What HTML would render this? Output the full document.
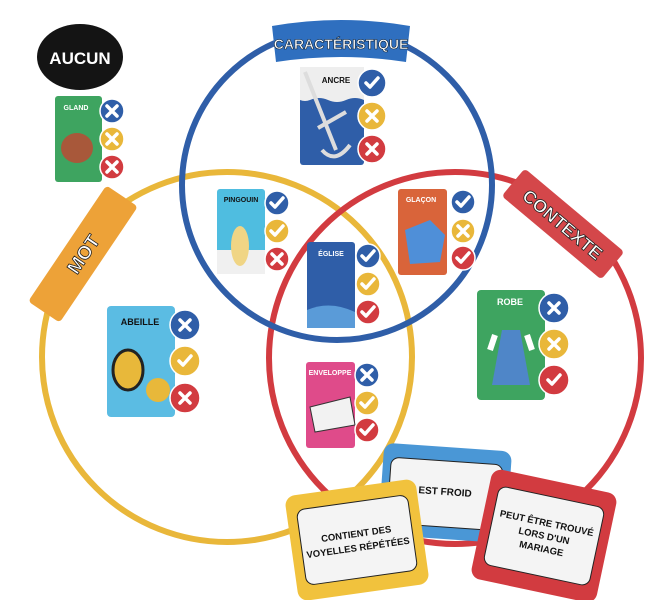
<!DOCTYPE html>
<html><head><meta charset="utf-8"><style>
html,body{margin:0;padding:0;background:#fff;}
svg{display:block;font-family:"Liberation Sans",sans-serif;font-weight:bold;}
</style></head><body>
<svg width="671" height="600" viewBox="0 0 671 600" xmlns="http://www.w3.org/2000/svg">
<defs>
<g id="ck"><path d="M-6,0 L-2,4 L6,-5" fill="none" stroke="#fff" stroke-width="3.5" stroke-linecap="round" stroke-linejoin="round"/></g>
<g id="xx"><path d="M-5,-5 L5,5 M5,-5 L-5,5" fill="none" stroke="#fff" stroke-width="3.5" stroke-linecap="round"/></g>
</defs>
<!-- circles -->
<circle cx="227" cy="357" r="185" fill="none" stroke="#e9b73a" stroke-width="6"/>
<circle cx="455" cy="358" r="186" fill="none" stroke="#d23b40" stroke-width="6"/>
<circle cx="337" cy="185" r="155" fill="none" stroke="#2f5ea8" stroke-width="6"/>

<!-- AUCUN -->
<ellipse cx="80" cy="57" rx="43" ry="33" fill="#141414"/>
<text x="80" y="64" font-size="17" fill="#fff" text-anchor="middle">AUCUN</text>

<!-- banners -->
<path d="M272,26 Q341,14 410,26 L406,62 Q341,52 276,62 Z" fill="#2f6fbf"/>
<text x="341" y="49" font-size="14" fill="#fff" text-anchor="middle" stroke="#123" stroke-width="0.6">CARACTÉRISTIQUE</text>
<g transform="translate(83,254) rotate(-56)">
<rect x="-70" y="-19" width="140" height="38" rx="4" fill="#eda238"/>
<text x="0" y="7" font-size="19" fill="#fff" text-anchor="middle" stroke="#222" stroke-width="0.8">MOT</text>
</g>
<g transform="translate(563,224) rotate(40)">
<rect x="-65" y="-18" width="130" height="36" rx="4" fill="#d4474a"/>
<text x="0" y="7" font-size="18" fill="#fff" text-anchor="middle" stroke="#222" stroke-width="0.8">CONTEXTE</text>
</g>

<!-- GLAND -->
<rect x="55" y="96" width="47" height="86" rx="3" fill="#3ea460"/>
<text x="76" y="110" font-size="7" fill="#fff" text-anchor="middle">GLAND</text>
<ellipse cx="77" cy="148" rx="16" ry="15" fill="#a8583a"/>
<circle cx="112" cy="111" r="12" fill="#2f5ea8" stroke="#fff" stroke-width="1.5"/><use href="#xx" x="112" y="111"/>
<circle cx="112" cy="139" r="12" fill="#e9b73a" stroke="#fff" stroke-width="1.5"/><use href="#xx" x="112" y="139"/>
<circle cx="112" cy="167" r="12" fill="#d23b40" stroke="#fff" stroke-width="1.5"/><use href="#xx" x="112" y="167"/>

<!-- ANCRE -->
<rect x="300" y="67" width="64" height="98" rx="3" fill="#2f5ea8"/>
<path d="M300,67 H364 V100 Q355,96 346,100 Q337,104 328,100 Q319,96 310,100 Q305,102 300,100 Z" fill="#eeeeee"/>
<text x="336" y="83" font-size="8" fill="#111" text-anchor="middle">ANCRE</text>
<path d="M305,72 L336,150 M318,128 L346,112 M322,150 Q335,165 350,145" stroke="#ddd" stroke-width="4" fill="none"/>
<circle cx="372" cy="83" r="14" fill="#2f5ea8" stroke="#fff" stroke-width="1.5"/><use href="#ck" x="372" y="83"/>
<circle cx="372" cy="116" r="14" fill="#e9b73a" stroke="#fff" stroke-width="1.5"/><use href="#xx" x="372" y="116"/>
<circle cx="372" cy="149" r="14" fill="#d23b40" stroke="#fff" stroke-width="1.5"/><use href="#xx" x="372" y="149"/>

<!-- PINGOUIN -->
<rect x="217" y="189" width="48" height="85" rx="3" fill="#4fbde0"/>
<rect x="217" y="250" width="48" height="24" fill="#f0f0f0"/>
<text x="241" y="202" font-size="7" fill="#111" text-anchor="middle">PINGOUIN</text>
<ellipse cx="240" cy="246" rx="9" ry="20" fill="#f0d585"/>
<circle cx="277" cy="203" r="12" fill="#2f5ea8" stroke="#fff" stroke-width="1.5"/><use href="#ck" x="277" y="203"/>
<circle cx="277" cy="231" r="12" fill="#e9b73a" stroke="#fff" stroke-width="1.5"/><use href="#ck" x="277" y="231"/>
<circle cx="277" cy="259" r="12" fill="#d23b40" stroke="#fff" stroke-width="1.5"/><use href="#xx" x="277" y="259"/>

<!-- GLACON -->
<rect x="398" y="189" width="49" height="86" rx="3" fill="#d9643a"/>
<text x="421" y="202" font-size="7" fill="#fff" text-anchor="middle">GLAÇON</text>
<path d="M405,230 L430,220 L445,235 L440,262 L410,264 Z" fill="#4f8fd8"/>
<circle cx="463" cy="202" r="12" fill="#2f5ea8" stroke="#fff" stroke-width="1.5"/><use href="#ck" x="463" y="202"/>
<circle cx="463" cy="231" r="12" fill="#e9b73a" stroke="#fff" stroke-width="1.5"/><use href="#xx" x="463" y="231"/>
<circle cx="463" cy="258" r="12" fill="#d23b40" stroke="#fff" stroke-width="1.5"/><use href="#ck" x="463" y="258"/>

<!-- EGLISE -->
<rect x="307" y="242" width="48" height="86" rx="3" fill="#2f5ea8"/>
<text x="331" y="256" font-size="7" fill="#fff" text-anchor="middle">ÉGLISE</text>
<path d="M307,310 Q330,300 355,312 V328 H307 Z" fill="#5a9bd8"/>
<circle cx="368" cy="256" r="12" fill="#2f5ea8" stroke="#fff" stroke-width="1.5"/><use href="#ck" x="368" y="256"/>
<circle cx="368" cy="284" r="12" fill="#e9b73a" stroke="#fff" stroke-width="1.5"/><use href="#ck" x="368" y="284"/>
<circle cx="368" cy="312" r="12" fill="#d23b40" stroke="#fff" stroke-width="1.5"/><use href="#ck" x="368" y="312"/>

<!-- ABEILLE -->
<rect x="107" y="306" width="68" height="111" rx="4" fill="#5bbce3"/>
<text x="140" y="325" font-size="9" fill="#111" text-anchor="middle">ABEILLE</text>
<ellipse cx="128" cy="370" rx="15" ry="20" fill="#e8b83a" stroke="#222" stroke-width="3"/>
<circle cx="158" cy="390" r="12" fill="#e8b83a"/>
<circle cx="185" cy="325" r="15" fill="#2f5ea8" stroke="#fff" stroke-width="1.5"/><use href="#xx" x="185" y="325"/>
<circle cx="185" cy="361" r="15" fill="#e9b73a" stroke="#fff" stroke-width="1.5"/><use href="#ck" x="185" y="361"/>
<circle cx="185" cy="398" r="15" fill="#d23b40" stroke="#fff" stroke-width="1.5"/><use href="#xx" x="185" y="398"/>

<!-- ENVELOPPE -->
<rect x="306" y="362" width="49" height="86" rx="3" fill="#df4b8a"/>
<text x="330" y="375" font-size="7" fill="#fff" text-anchor="middle">ENVELOPPE</text>
<path d="M310,407 L350,397 L355,425 L315,432 Z" fill="#f2f2f2" stroke="#333" stroke-width="1"/>
<circle cx="367" cy="375" r="12" fill="#2f5ea8" stroke="#fff" stroke-width="1.5"/><use href="#xx" x="367" y="375"/>
<circle cx="367" cy="403" r="12" fill="#e9b73a" stroke="#fff" stroke-width="1.5"/><use href="#ck" x="367" y="403"/>
<circle cx="367" cy="430" r="12" fill="#d23b40" stroke="#fff" stroke-width="1.5"/><use href="#ck" x="367" y="430"/>

<!-- ROBE -->
<rect x="477" y="290" width="68" height="110" rx="4" fill="#3ea460"/>
<text x="510" y="305" font-size="9" fill="#fff" text-anchor="middle">ROBE</text>
<path d="M502,330 L520,330 L530,385 L492,385 Z" fill="#4f86c8"/>
<path d="M495,335 L490,350 M527,335 L532,350" stroke="#fff" stroke-width="6"/>
<circle cx="554" cy="308" r="15" fill="#2f5ea8" stroke="#fff" stroke-width="1.5"/><use href="#xx" x="554" y="308"/>
<circle cx="554" cy="344" r="15" fill="#e9b73a" stroke="#fff" stroke-width="1.5"/><use href="#xx" x="554" y="344"/>
<circle cx="554" cy="380" r="15" fill="#d23b40" stroke="#fff" stroke-width="1.5"/><use href="#ck" x="554" y="380"/>

<!-- bottom cards -->
<g transform="translate(445,493) rotate(4)">
<rect x="-64" y="-46" width="128" height="92" rx="10" fill="#4a97d6"/>
<rect x="-56" y="-32" width="112" height="66" rx="8" fill="#f4f4f4" stroke="#222" stroke-width="1"/>
<text x="0" y="2" font-size="10" fill="#111" text-anchor="middle">EST FROID</text>
</g>
<g transform="translate(357,540) rotate(-8)">
<rect x="-66" y="-53" width="132" height="106" rx="10" fill="#f1c23d"/>
<rect x="-56" y="-38" width="112" height="76" rx="8" fill="#f4f4f4" stroke="#222" stroke-width="1"/>
<text x="0" y="-3" font-size="9.5" fill="#111" text-anchor="middle">CONTIENT DES</text>
<text x="0" y="11" font-size="9.5" fill="#111" text-anchor="middle">VOYELLES RÉPÉTÉES</text>
</g>
<g transform="translate(544,536) rotate(12)">
<rect x="-64" y="-56" width="128" height="112" rx="10" fill="#d23b40"/>
<rect x="-54" y="-40" width="108" height="80" rx="8" fill="#f4f4f4" stroke="#222" stroke-width="1"/>
<text x="0" y="-10" font-size="9.5" fill="#111" text-anchor="middle">PEUT ÊTRE TROUVÉ</text>
<text x="0" y="3" font-size="9.5" fill="#111" text-anchor="middle">LORS D'UN</text>
<text x="0" y="16" font-size="9.5" fill="#111" text-anchor="middle">MARIAGE</text>
</g>
</svg>
</body></html>
